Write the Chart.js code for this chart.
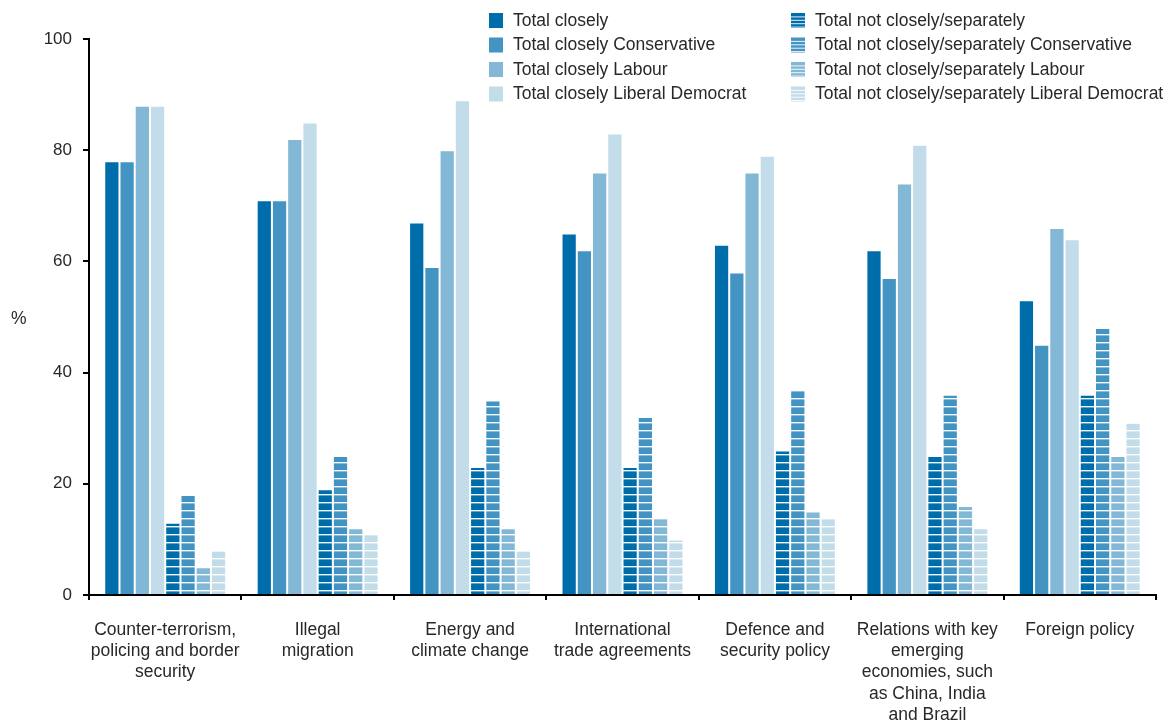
<!DOCTYPE html>
<html>
<head>
<meta charset="utf-8">
<script src="https://cdn.jsdelivr.net/npm/chart.js@4/dist/chart.umd.min.js"></script>
<style>
  html, body { margin: 0; padding: 0; background: #fff; }
  #wrap { width: 1170px; height: 720px; position: relative; }
</style>
</head>
<body>
<div id="wrap"><canvas id="chart"></canvas></div>
<script>
'use strict';

// --- data ---
const categories = [
    ['Counter-terrorism,', 'policing and border', 'security'],
    ['Illegal', 'migration'],
    ['Energy and', 'climate change'],
    ['International', 'trade agreements'],
    ['Defence and', 'security policy'],
    ['Relations with key', 'emerging', 'economies, such', 'as China, India', 'and Brazil'],
    ['Foreign policy']
];
const totalClosely      = [78, 71, 67, 65, 63, 62, 53];
const closelyCon        = [78, 71, 59, 62, 58, 57, 45];
const closelyLab        = [88, 82, 80, 76, 76, 74, 66];
const closelyLD         = [88, 85, 89, 83, 79, 81, 64];
const notClosely        = [13, 19, 23, 23, 26, 25, 36];
const notCloselyCon     = [18, 25, 35, 32, 37, 36, 48];
const notCloselyLab     = [5, 12, 12, 14, 15, 16, 25];
const notCloselyLD      = [8, 11, 8, 10, 14, 12, 31];
const yTicks = [0, 20, 40, 60, 80, 100];

const seriesNames = [
    'Total closely', 'Total closely Conservative', 'Total closely Labour', 'Total closely Liberal Democrat',
    'Total not closely/separately', 'Total not closely/separately Conservative',
    'Total not closely/separately Labour', 'Total not closely/separately Liberal Democrat'
];
const blues = ['#006dab', '#4393c3', '#82b7d6', '#c2dcea'];
const FONT = '"Liberation Sans", Arial, sans-serif';
const TEXT = '#2a2728';

function hatch(color) {
    const c = document.createElement('canvas');
    c.width = 8; c.height = 8;
    const g = c.getContext('2d');
    g.fillStyle = color;
    g.fillRect(0, 0, 8, 8);
    g.fillStyle = 'rgba(255,255,255,0.95)';
    g.fillRect(0, 6, 8, 1.4);
    return g.createPattern(c, 'repeat');
}

const values = [totalClosely, closelyCon, closelyLab, closelyLD, notClosely, notCloselyCon, notCloselyLab, notCloselyLD];
const datasets = values.map((v, i) => ({
    label: seriesNames[i],
    data: v,
    backgroundColor: i < 4 ? blues[i] : hatch(blues[i - 4]),
    baseColor: blues[i % 4],
    hatched: i >= 4,
    borderColor: 'rgba(255,255,255,0.35)',
    borderWidth: 1,
    categoryPercentage: 0.8,
    barPercentage: 1.0
}));

// legend in two columns over the top right, plus the "%" label
const extras = {
    id: 'extras',
    afterDraw(chart) {
        const ctx = chart.ctx;
        ctx.save();
        ctx.font = '17.5px ' + FONT;
        ctx.textBaseline = 'middle';
        ctx.fillStyle = TEXT;
        ctx.fillText('%', 11, 319);
        const cols = [489, 791];
        chart.data.datasets.forEach((ds, i) => {
            const x = cols[Math.floor(i / 4)];
            const y = 20 + (i % 4) * 24.5;
            ctx.fillStyle = ds.baseColor;
            ctx.fillRect(x, y - 7, 14, 15);
            if (ds.hatched) {
                ctx.fillStyle = 'rgba(255,255,255,0.9)';
                for (let k = 1; k < 5; k++) ctx.fillRect(x, y - 7 + k * 3.4, 14, 1);
            }
            ctx.fillStyle = TEXT;
            ctx.fillText(ds.label, x + 24, y + 1);
        });
        ctx.restore();
    }
};

new Chart(document.getElementById('chart'), {
    type: 'bar',
    data: { labels: categories, datasets: datasets },
    plugins: [extras],
    options: {
        responsive: true,
        maintainAspectRatio: false,
        animation: false,
        layout: { padding: { top: 39, right: 14, left: 0, bottom: 0 } },
        plugins: { legend: { display: false }, tooltip: { enabled: false } },
        scales: {
            x: {
                afterFit: (s) => { s.height = 125; },
                grid: { drawOnChartArea: false, offset: true, tickLength: 5, color: '#000', lineWidth: 2 },
                border: { color: '#000', width: 2 },
                ticks: {
                    color: TEXT, padding: 19, maxRotation: 0, autoSkip: false,
                    font: { family: FONT, size: 17.5, lineHeight: 1.22 }
                }
            },
            y: {
                min: 0, max: 100,
                afterFit: (s) => { s.width = 89; },
                afterBuildTicks: (s) => { s.ticks = yTicks.map(v => ({ value: v })); },
                grid: { drawOnChartArea: false, tickLength: 6, color: '#000', lineWidth: 2 },
                border: { color: '#000', width: 2 },
                ticks: { color: TEXT, padding: 11, font: { family: FONT, size: 17 } }
            }
        }
    }
});
</script>
</body>
</html>
